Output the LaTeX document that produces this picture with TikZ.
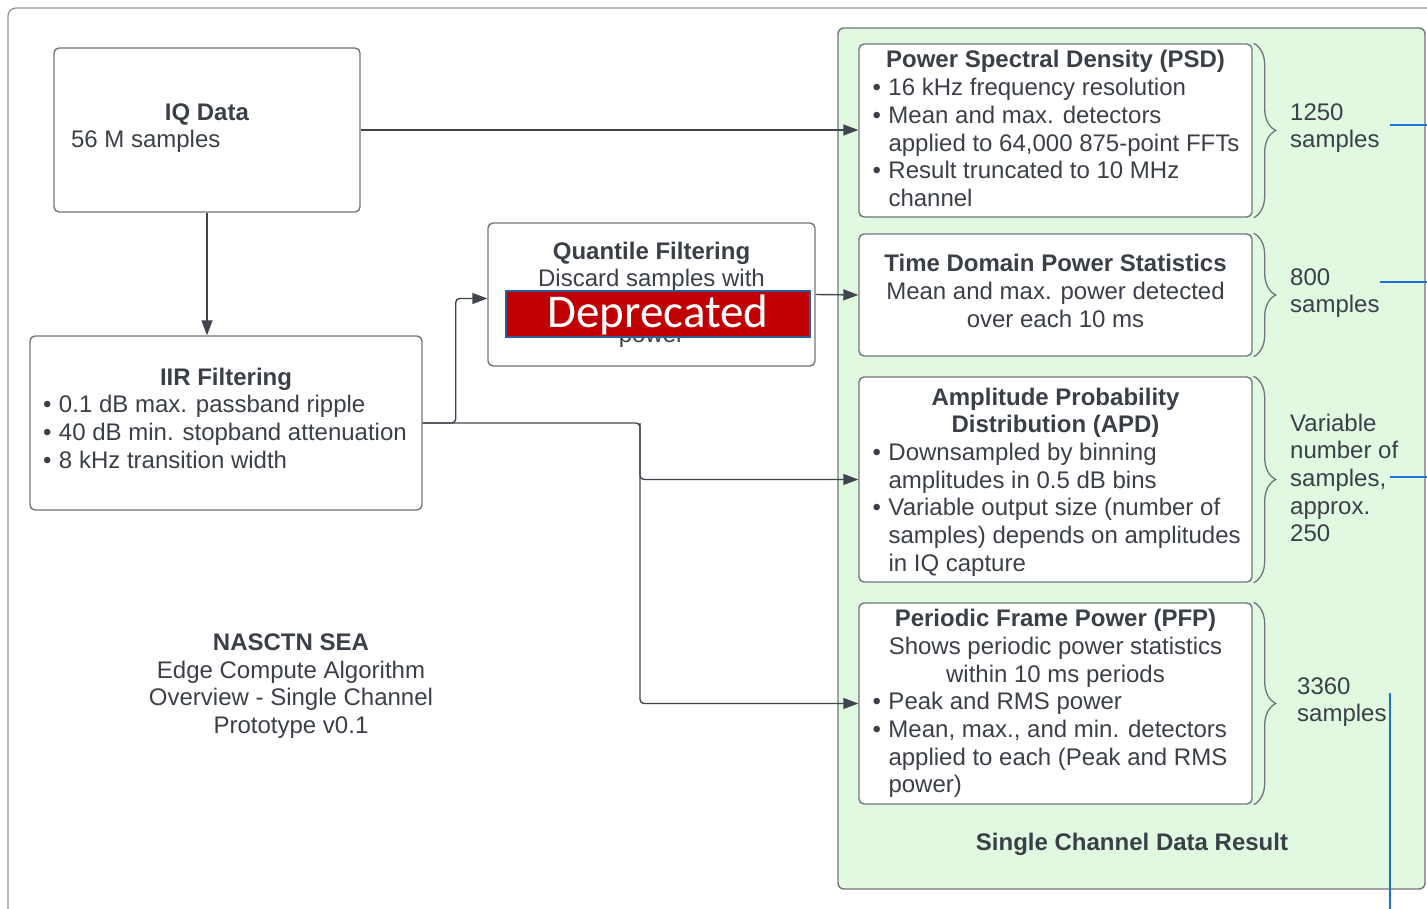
\documentclass[tikz,border=0pt]{standalone}
\usepackage{fontspec}
\setmainfont{Liberation Sans}
\newfontfamily\depfont{Carlito}
\usepackage{tikz}
\usetikzlibrary{arrows.meta,decorations.pathreplacing}

\definecolor{txtgray}{HTML}{3B4048}
\definecolor{boxgray}{HTML}{70757D}
\definecolor{linegray}{HTML}{40454D}
\definecolor{resgreen}{HTML}{E1F8E1}
\definecolor{depred}{HTML}{C00000}
\definecolor{depblue}{HTML}{2D5F96}
\definecolor{linkblue}{HTML}{1E70D8}

\newlength{\itemw}
\setlength{\itemw}{366pt}
\newcommand{\itm}[1]{\makebox[\itemw][l]{\makebox[16pt][l]{\textbullet}#1}}
\newcommand{\cnt}[1]{\makebox[\itemw][l]{\hspace*{16pt}#1}}

\begin{document}
\begin{tikzpicture}[x=1pt,y=-1pt,
  font=\fontsize{24}{27.7}\selectfont, text=txtgray,
  >={Triangle[length=15pt,width=11pt]},
  block/.style={draw=boxgray, line width=1.4pt, fill=white, rounded corners=5pt, inner sep=0pt, align=center},
  flow/.style={draw=linegray, line width=1.4pt, rounded corners=4pt, ->},
  samplebrace/.style={draw=boxgray, line width=1.3pt, decorate, decoration={brace,amplitude=22pt}},
  count/.style={anchor=west, align=left, inner sep=0pt},
  outlink/.style={draw=linkblue, line width=1.2pt}]
\useasboundingbox (0,0) rectangle (1427,909);
\clip (0,0) rectangle (1427,909);
\draw[boxgray!80, line width=1.2pt, rounded corners=8pt] (8,8) rectangle (1460,940);
\draw[boxgray, line width=1.4pt, rounded corners=6pt, fill=resgreen] (838,28) rectangle (1425,889);

\node[block, minimum width=306, minimum height=164, text depth=9pt] (iq) at (207,130) {\textbf{IQ Data}\\\makebox[272pt][l]{56 M samples}};
\node[block, minimum width=392, minimum height=174, text depth=10pt] (iir) at (226,423) {\textbf{IIR Filtering}\\\itm{0.1 dB max. passband ripple}\\\itm{40 dB min. stopband attenuation}\\\itm{8 kHz transition width}};
\node[block, minimum width=327, minimum height=143] (quant) at (651.5,294.5) {\textbf{Quantile Filtering}\\Discard samples with\\\mbox{}\\power};
\node[draw=depblue, fill=depred, line width=1.5pt, minimum width=304, minimum height=46, inner sep=0pt, text=white, text depth=5pt, font=\depfont\fontsize{47}{50}\selectfont] (dep) at (658,314) {Deprecated};

\node[block, minimum width=393, minimum height=173, text depth=4pt] (psd) at (1055.5,130.5) {\textbf{Power Spectral Density (PSD)}\\\itm{16 kHz frequency resolution}\\\itm{Mean and max. detectors}\\\cnt{applied to 64,000 875-point FFTs}\\\itm{Result truncated to 10 MHz}\\\cnt{channel}};
\node[block, minimum width=393, minimum height=122, text depth=8pt] (tdps) at (1055.5,295) {\textbf{Time Domain Power Statistics}\\Mean and max. power detected\\over each 10 ms};
\node[block, minimum width=393, minimum height=205, text depth=-3pt] (apd) at (1055.5,479.5) {\textbf{Amplitude Probability}\\\textbf{Distribution (APD)}\\\itm{Downsampled by binning}\\\cnt{amplitudes in 0.5 dB bins}\\\itm{Variable output size (number of}\\\cnt{samples) depends on amplitudes}\\\cnt{in IQ capture}};
\node[block, minimum width=393, minimum height=201] (pfp) at (1055.5,703.5) {\textbf{Periodic Frame Power (PFP)}\\Shows periodic power statistics\\within 10 ms periods\\\itm{Peak and RMS power}\\\itm{Mean, max., and min. detectors}\\\cnt{applied to each (Peak and RMS}\\\cnt{power)}};

\coordinate (split) at (640,423);
\draw[flow] (iq.east) -- (iq.east -| psd.west);
\draw[flow] (iq.south) -- (iq.south |- iir.north);
\draw[flow] (iir.east) -- ++(33,0) |- ([yshift=-4pt]quant.west);
\draw[flow] (quant.east) -- (tdps.west);
\draw[flow] (iir.east) -- (split) |- (pfp.west);
\draw[flow] (split) |- (apd.west);

\foreach \b in {psd,tdps,apd,pfp}
  \draw[samplebrace] ([xshift=1pt]\b.north east) -- ([xshift=1pt]\b.south east);

\node[count] (n1250) at (1290,128) {1250\\samples};
\node[count] (n800) at (1290,293) {800\\samples};
\node[count] (nvar) at (1290,478) {Variable\\number of\\samples,\\approx.\\250};
\node[count] (n3360) at (1297,702) {3360\\samples};

\coordinate (l1250) at (1390,125);
\coordinate (l800) at (1380,282);
\coordinate (lvar) at (1390,477);
\coordinate (l3360) at (1390,693);
\draw[outlink] (l1250) -- ++(40,0);
\draw[outlink] (l800) -- ++(50,0);
\draw[outlink] (lvar) -- ++(40,0);
\draw[outlink] (l3360) -- ++(0,220);

\node[align=center] (title) at (291,686) {\textbf{NASCTN SEA}\\Edge Compute Algorithm\\Overview - Single Channel\\Prototype v0.1};
\node (result) at (1132,844) {\textbf{Single Channel Data Result}};
\end{tikzpicture}
\end{document}
